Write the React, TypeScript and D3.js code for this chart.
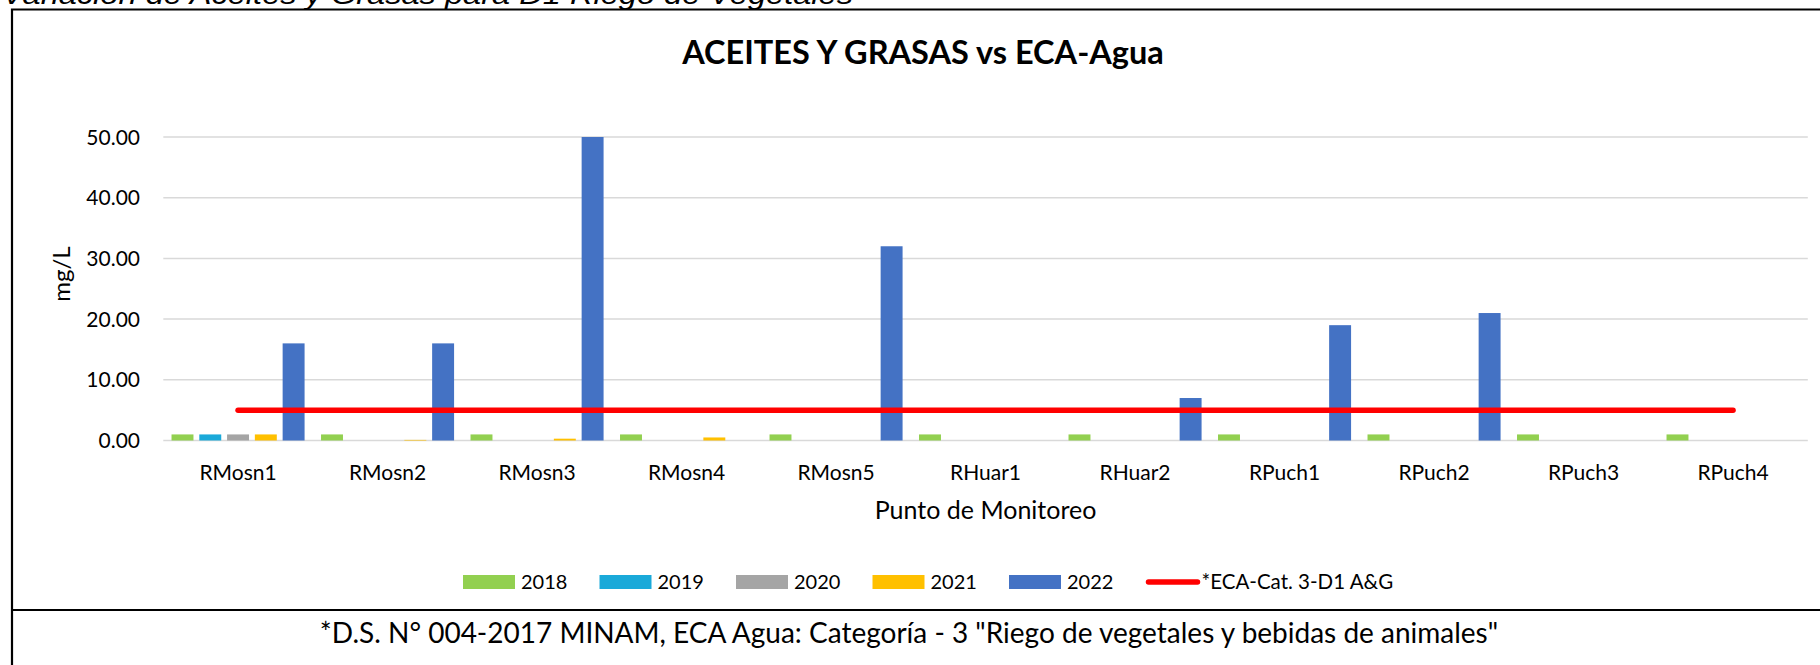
import { useEffect, useRef } from "react";
import * as d3 from "d3";

const categories = ["RMosn1", "RMosn2", "RMosn3", "RMosn4", "RMosn5", "RHuar1", "RHuar2", "RPuch1", "RPuch2", "RPuch3", "RPuch4"];
const years = ["2018", "2019", "2020", "2021", "2022"];
const v2018 = [1, 1, 1, 1, 1, 1, 1, 1, 1, 1, 1];
const v2019 = [1, 0, 0, 0, 0, 0, 0, 0, 0, 0, 0];
const v2020 = [1, 0, 0, 0, 0, 0, 0, 0, 0, 0, 0];
const v2021 = [1, 0.1, 0.3, 0.5, 0, 0, 0, 0, 0, 0, 0];
const v2022 = [16, 16, 50, 0, 32, 0, 7, 19, 21, 0, 0];
const ecaLimit = [5, 5, 5, 5, 5, 5, 5, 5, 5, 5, 5];
const yTicks = [0, 10, 20, 30, 40, 50];
const yearColors = ["#92D050", "#1AA9D9", "#A5A5A5", "#FFC000", "#4472C4"];
const ecaLabel = "*ECA-Cat. 3-D1 A&G";

const W = 1820;
const H = 665;
const FONT = "Lato, 'Open Sans', sans-serif";

export default function App() {
  const svgRef = useRef<SVGSVGElement>(null);

  useEffect(() => {
    if (!svgRef.current) return;
    const svg = d3.select(svgRef.current);
    svg.selectAll("*").remove();

    const plot = { left: 163.3, right: 1807.8, top: 137, bottom: 440.5 };
    const series = [v2018, v2019, v2020, v2021, v2022];

    const x0 = d3.scaleBand<string>()
      .domain(categories)
      .range([plot.left, plot.right])
      .paddingInner(0.11)
      .paddingOuter(0.055);

    const x1 = d3.scaleBand<string>()
      .domain(years)
      .range([0, x0.bandwidth()])
      .paddingInner(0.21);

    const y = d3.scaleLinear().domain([0, 50]).range([plot.bottom, plot.top]);

    svg.append("rect").attr("width", W).attr("height", H).attr("fill", "#fff");

    // frame (cropped table cell)
    svg.append("path")
      .attr("d", `M12,${H} L12,9.5 L${W},9.5`)
      .attr("fill", "none")
      .attr("stroke", "#000")
      .attr("stroke-width", 2.2);
    svg.append("line")
      .attr("x1", 12).attr("x2", W)
      .attr("y1", 610).attr("y2", 610)
      .attr("stroke", "#000")
      .attr("stroke-width", 2.2);

    // caption above, mostly cut off
    svg.append("text")
      .attr("x", 2).attr("y", 4)
      .attr("font-family", "'Liberation Sans', Arial, sans-serif")
      .attr("font-style", "italic")
      .attr("font-size", 27)
      .attr("textLength", 851)
      .attr("lengthAdjust", "spacingAndGlyphs")
      .text("Variación de Aceites y Grasas para D1 Riego de Vegetales");

    // title
    svg.append("text")
      .attr("x", 923).attr("y", 64.3)
      .attr("text-anchor", "middle")
      .attr("font-family", FONT)
      .attr("font-weight", 700)
      .attr("font-size", 32.5)
      .text("ACEITES Y GRASAS vs ECA-Agua");

    // gridlines
    svg.append("g")
      .selectAll("line")
      .data(yTicks)
      .join("line")
      .attr("x1", plot.left).attr("x2", plot.right)
      .attr("y1", d => y(d)).attr("y2", d => y(d))
      .attr("stroke", "#D9D9D9")
      .attr("stroke-width", 1.5);

    // y tick labels
    svg.append("g")
      .selectAll("text")
      .data(yTicks)
      .join("text")
      .attr("x", 140)
      .attr("y", d => y(d))
      .attr("dy", "0.36em")
      .attr("text-anchor", "end")
      .attr("font-family", FONT)
      .attr("font-size", 21)
      .attr("fill", "#000")
      .text(d => d3.format(".2f")(d));

    // bars
    const groups = svg.append("g")
      .selectAll("g")
      .data(categories)
      .join("g")
      .attr("transform", c => `translate(${x0(c)},0)`);

    groups.selectAll("rect")
      .data((_, ci) => years.map((yr, si) => ({ yr, si, v: series[si][ci] })))
      .join("rect")
      .attr("x", d => x1(d.yr) ?? 0)
      .attr("width", x1.bandwidth())
      .attr("y", d => y(d.v))
      .attr("height", d => y(0) - y(d.v))
      .attr("fill", d => yearColors[d.si]);

    // ECA line
    const line = d3.line<number>()
      .x((_, i) => (x0(categories[i]) ?? 0) + x0.bandwidth() / 2)
      .y(d => y(d));
    svg.append("path")
      .datum(ecaLimit)
      .attr("d", line)
      .attr("fill", "none")
      .attr("stroke", "#FF0000")
      .attr("stroke-width", 5.5)
      .attr("stroke-linecap", "round");

    // category labels
    svg.append("g")
      .selectAll("text")
      .data(categories)
      .join("text")
      .attr("x", c => (x0(c) ?? 0) + x0.bandwidth() / 2)
      .attr("y", 480)
      .attr("text-anchor", "middle")
      .attr("font-family", FONT)
      .attr("font-size", 21)
      .text(c => c);

    // axis titles
    svg.append("text")
      .attr("x", (plot.left + plot.right) / 2)
      .attr("y", 519.3)
      .attr("text-anchor", "middle")
      .attr("font-family", FONT)
      .attr("font-size", 25)
      .text("Punto de Monitoreo");

    svg.append("text")
      .attr("transform", "translate(70,274) rotate(-90)")
      .attr("text-anchor", "middle")
      .attr("font-family", FONT)
      .attr("font-size", 24)
      .text("mg/L");

    // legend
    const legX = 463;
    const legStep = 136.5;
    const legY = 582;
    const leg = svg.append("g");
    years.forEach((yr, i) => {
      const lx = legX + i * legStep;
      leg.append("rect")
        .attr("x", lx).attr("y", legY - 7)
        .attr("width", 52).attr("height", 14)
        .attr("fill", yearColors[i]);
      leg.append("text")
        .attr("x", lx + 58).attr("y", legY)
        .attr("dy", "0.36em")
        .attr("font-family", FONT)
        .attr("font-size", 20)
        .text(yr);
    });
    const lx = legX + years.length * legStep;
    leg.append("line")
      .attr("x1", lx + 3).attr("x2", lx + 52)
      .attr("y1", legY).attr("y2", legY)
      .attr("stroke", "#FF0000")
      .attr("stroke-width", 5.5)
      .attr("stroke-linecap", "round");
    leg.append("text")
      .attr("x", lx + 56).attr("y", legY)
      .attr("dy", "0.36em")
      .attr("font-family", FONT)
      .attr("font-size", 20.5)
      .text(ecaLabel);

    // footnote
    svg.append("text")
      .attr("x", 909).attr("y", 643.3)
      .attr("text-anchor", "middle")
      .attr("font-family", FONT)
      .attr("font-size", 28)
      .text('*D.S. N° 004-2017 MINAM, ECA Agua: Categoría - 3 "Riego de vegetales y bebidas de animales"');
  }, []);

  return (
    <svg
      ref={svgRef}
      width={W}
      height={H}
      style={{ position: "absolute", left: 0, top: 0, display: "block" }}
    />
  );
}
